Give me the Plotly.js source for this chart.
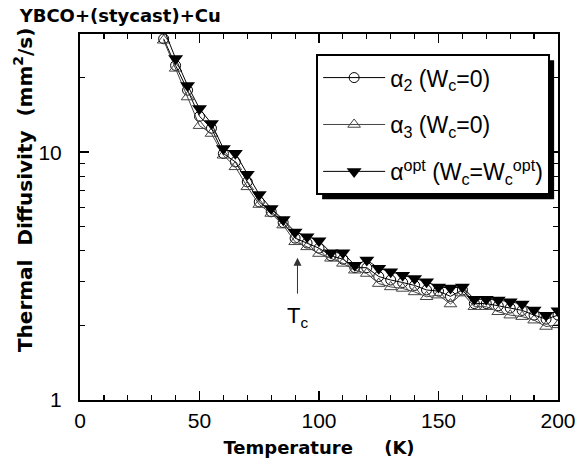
<!DOCTYPE html>
<html>
<head>
<meta charset="utf-8">
<script src="https://cdn.plot.ly/plotly-3.0.1.min.js"></script>
<style>html,body{margin:0;padding:0;background:#fff;}#chart{width:578px;height:466px;}</style>
</head>
<body>
<div id="chart"></div>
<script>
// Temperature (K)
const temperature = [35,40,45,50,55,60,65,70,75,80,85,90,95,100,105,110,115,120,125,130,135,140,145,150,155,160,165,170,175,180,185,190,195,200];
// alpha_2 (Wc=0)
const alpha2 = [28.7,22.4,17.8,13.96,12.5,9.88,9.14,7.59,6.3,5.75,5.2,4.5,4.3,4.1,3.82,3.7,3.42,3.42,3.15,3.05,2.98,2.9,2.78,2.75,2.62,2.78,2.45,2.45,2.4,2.35,2.3,2.2,2.12,2.2];
// alpha_3 (Wc=0)
const alpha3 = [28.3,21.8,16.7,12.8,11.9,9.72,8.73,7.25,6.15,5.66,5.08,4.35,4.15,3.9,3.73,3.56,3.34,3.24,2.95,2.86,2.82,2.73,2.61,2.65,2.44,2.7,2.38,2.38,2.27,2.2,2.17,2.1,1.98,2.01];
// alpha_opt (Wc=Wc_opt)
const alphaOpt = [31.5,23.9,18.6,15.0,13.05,10.35,9.9,8.15,6.75,5.93,5.35,4.77,4.56,4.39,3.93,3.93,3.5,3.67,3.4,3.29,3.19,3.09,3.0,2.86,2.83,2.86,2.55,2.55,2.53,2.49,2.44,2.31,2.2,2.29];

const xTicks = [0,50,100,150,200];
const yTicks = [1,10];
const yMinor = [2,3,4,5,6,7,8,9,20];
const names = ['α<sub>2</sub> (W<sub>c</sub>=0)', 'α<sub>3</sub> (W<sub>c</sub>=0)', 'α<sup>opt</sup> (W<sub>c</sub>=W<sub>c</sub><sup>opt</sup>)'];
const tcLabel = 'T<sub>c</sub>';
const tcX = 91, tcArrowTip = 3.75, tcArrowTail = 2.65, tcTextY = 2.5;

const traces = [
  {x: temperature, y: alpha2, name: names[0], mode: 'lines+markers', legendgroup: 'a',
   line: {color: '#000', width: 1}, marker: {symbol: 'circle-open', size: 10, color: '#000', line: {width: 1}}},
  {x: temperature, y: alpha3, name: names[1], mode: 'lines+markers', legendgroup: 'b',
   line: {color: '#444', width: 1}, marker: {symbol: 'triangle-up-open', size: 11, color: '#444', line: {width: 1}}},
  {x: temperature, y: alphaOpt, name: names[2], mode: 'lines+markers', legendgroup: 'c',
   line: {color: '#000', width: 1}, marker: {symbol: 'triangle-down', size: 13, color: '#000'}}
];

const tickFont = {family: 'Liberation Sans, Arial, sans-serif', size: 21, color: '#000'};
const titleFont = {family: 'DejaVu Sans, sans-serif', size: 18, color: '#000', weight: 700};
const yTitleFont = {family: 'DejaVu Sans, sans-serif', size: 20, color: '#000', weight: 700};
const sp = '\u00a0';

const layout = {
  width: 578, height: 466,
  margin: {l: 80, r: 20, t: 34, b: 66, pad: 0},
  paper_bgcolor: '#fff', plot_bgcolor: '#fff',
  showlegend: true,
  title: {text: 'YBCO+(stycast)+Cu', font: titleFont, xref: 'container', yref: 'container',
          x: 0.034, xanchor: 'left', y: 0.966, yanchor: 'middle'},
  xaxis: {
    range: [0, 200], tickmode: 'array', tickvals: xTicks, ticktext: xTicks.map(String),
    ticks: 'inside', ticklen: 9, tickwidth: 1.5, tickcolor: '#000',
    minor: {dtick: 10, tick0: 0, ticks: 'inside', ticklen: 5, tickwidth: 1.2, tickcolor: '#000', showgrid: false},
    showline: true, linecolor: '#000', linewidth: 2, mirror: 'ticks',
    showgrid: false, zeroline: false, tickfont: tickFont, ticklabelstandoff: 1,
    title: {text: 'Temperature' + sp.repeat(5) + '(K)', font: titleFont, standoff: 10}
  },
  yaxis: {
    type: 'log', range: [0, Math.log10(30)], tickmode: 'array', tickvals: yTicks, ticktext: yTicks.map(String),
    ticks: 'inside', ticklen: 9, tickwidth: 1.5, tickcolor: '#000',
    minor: {tickmode: 'array', tickvals: yMinor, ticks: 'inside', ticklen: 5, tickwidth: 1.2, tickcolor: '#000', showgrid: false},
    showline: true, linecolor: '#000', linewidth: 2, mirror: 'ticks',
    showgrid: false, zeroline: false, tickfont: tickFont, ticklabelstandoff: 12
  },
  legend: {
    x: 0.494, y: 0.945, xanchor: 'left', yanchor: 'top',
    bgcolor: '#fff', bordercolor: '#000', borderwidth: 2,
    font: {family: 'Liberation Sans, Arial, sans-serif', size: 23, color: '#000'},
    itemwidth: 62, tracegroupgap: 14, traceorder: 'grouped'
  },
  annotations: [
    {x: -0.119, y: 0.574, xref: 'paper', yref: 'paper', textangle: -90, showarrow: false,
     text: 'Thermal' + sp.repeat(2) + 'Diffusivity' + sp.repeat(2) + '(mm<sup>2</sup>/s)', font: yTitleFont,
     xanchor: 'center', yanchor: 'middle'},
    {x: tcX, y: Math.log10(tcArrowTip), ax: tcX, ay: Math.log10(tcArrowTail), xref: 'x', yref: 'y', axref: 'x', ayref: 'y',
     text: '', showarrow: true, arrowhead: 2, arrowsize: 1.6, arrowwidth: 1, arrowcolor: '#333'},
    {x: tcX, y: Math.log10(tcTextY), xref: 'x', yref: 'y', text: tcLabel, showarrow: false,
     font: {family: 'Liberation Sans, Arial, sans-serif', size: 22, color: '#000'}, xanchor: 'center', yanchor: 'top'}
  ]
};

Plotly.newPlot('chart', traces, layout, {displayModeBar: false, staticPlot: true}).then(function (gd) {
  // drop shadow behind the legend box
  const bg = gd.querySelector('.legend .bg');
  if (!bg) return;
  const r = bg.getBoundingClientRect();
  const c = gd.getBoundingClientRect();
  const fs = gd._fullLayout._size;
  const toX = px => (px - c.left - fs.l) / fs.w;
  const toY = py => 1 - (py - c.top - fs.t) / fs.h;
  const off = 5;
  Plotly.relayout(gd, {shapes: [{type: 'rect', xref: 'paper', yref: 'paper', layer: 'above',
    x0: toX(r.left + off), x1: toX(r.right + off), y0: toY(r.bottom + off), y1: toY(r.top + off),
    fillcolor: '#000', line: {width: 0}}]});
});
</script>
</body>
</html>
